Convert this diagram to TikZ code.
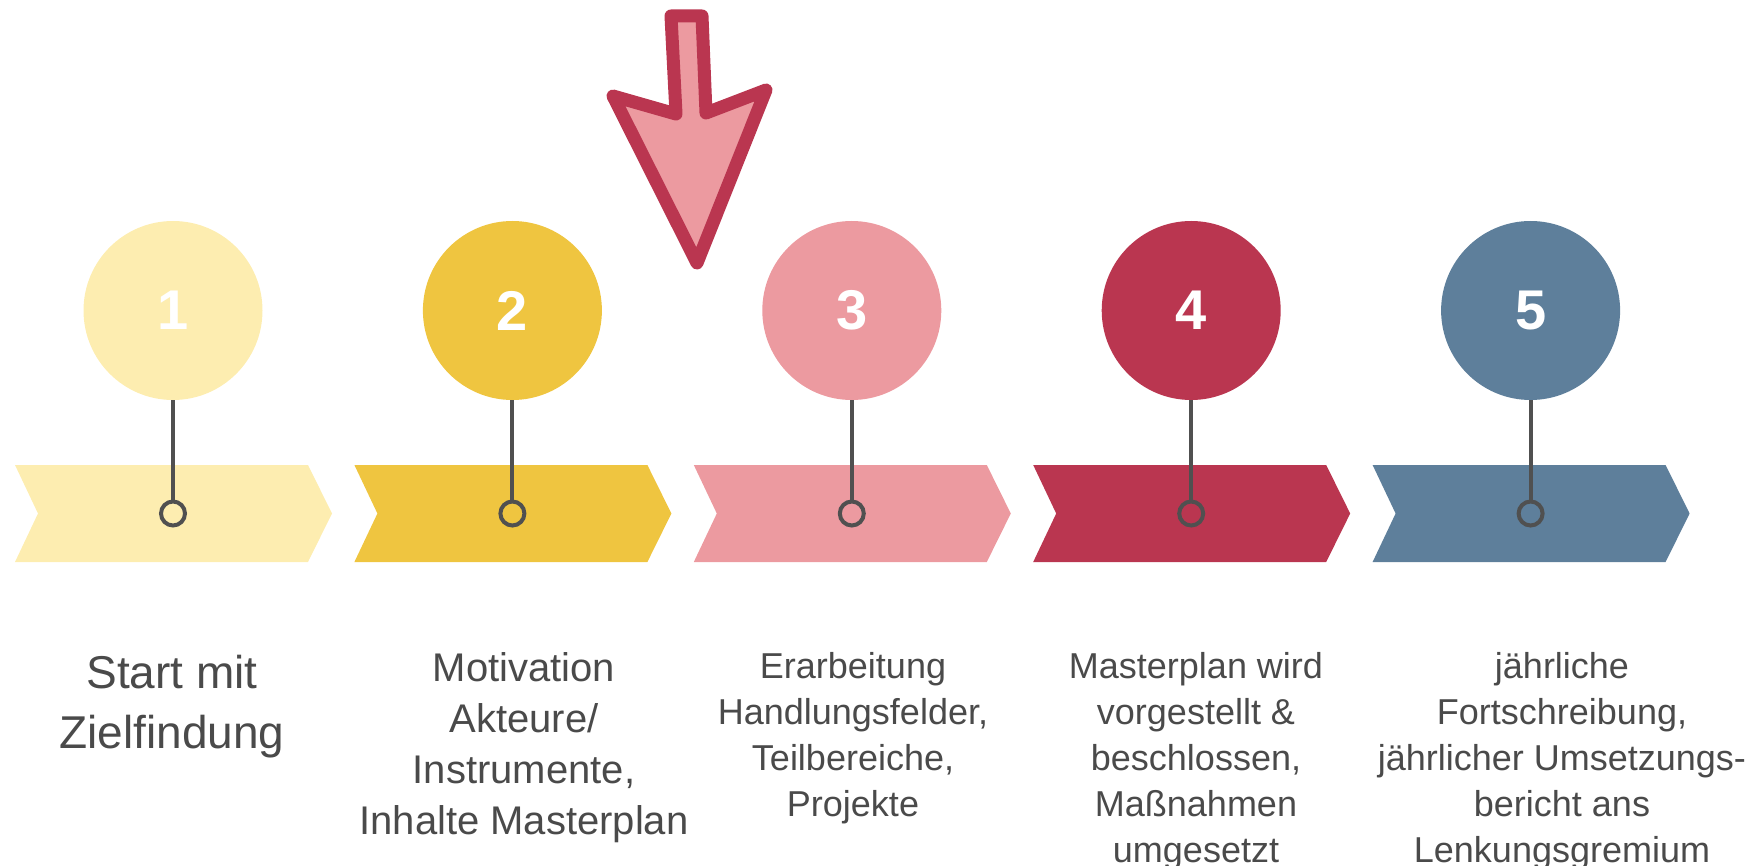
\documentclass[tikz,border=0pt]{standalone}
\usepackage{fontspec}
\setmainfont{Liberation Sans}
\definecolor{cA}{HTML}{FDEDB0}
\definecolor{cB}{HTML}{EFC540}
\definecolor{cC}{HTML}{EC9AA0}
\definecolor{cD}{HTML}{BA3650}
\definecolor{cE}{HTML}{5E7F9B}
\definecolor{stemgray}{HTML}{505050}
\definecolor{txtgray}{HTML}{4A4A4A}
\tikzset{
  bigcirc/.style={circle, minimum size=179pt, inner sep=0pt, text=white, font=\fontsize{56}{60}\selectfont\bfseries},
  pin/.style={circle, draw=stemgray, line width=4pt, minimum size=24pt, inner sep=0pt},
  stem/.style={draw=stemgray, line width=4pt},
  label/.style={text=txtgray, align=center, inner sep=0pt, anchor=north},
  bigarrow/.style={draw=cD, fill=cC, line width=13pt, line join=round}
}
\begin{document}
\begin{tikzpicture}[x=1pt,y=-1pt]
\useasboundingbox (0,0) rectangle (1762,866);
\foreach \i/\col in {1/cA,2/cB,3/cC,4/cD,5/cE}{
  \pgfmathsetmacro{\xo}{15+339.4*(\i-1)}
  \pgfmathsetmacro{\xc}{173+339.4*(\i-1)}
  \fill[\col] (\xo,465) -- (\xo+293,465) -- (\xo+317,513.5) -- (\xo+293,562) -- (\xo,562) -- (\xo+23,513.5) -- cycle;
  \node[bigcirc, fill=\col] (c\i) at (\xc,310.5) {\i};
  \node[pin] (p\i) at (\xc,513.5) {};
  \draw[stem] (c\i.south) -- (p\i.north);
}
\draw[bigarrow] (671,16) -- (702,16) -- (706,113) -- (766,90) -- (697,263) -- (613,96) -- (676,114) -- cycle;
\node[label, font=\fontsize{46}{60}\selectfont] (t1) at (172,655) {Start mit\\Zielfindung};
\node[label, font=\fontsize{40}{51}\selectfont] (t2) at (524,652) {Motivation\\Akteure/\\Instrumente,\\Inhalte Masterplan};
\node[label, font=\fontsize{36}{46}\selectfont] (t3) at (853,652) {Erarbeitung\\Handlungsfelder,\\Teilbereiche,\\Projekte};
\node[label, font=\fontsize{36}{46}\selectfont] (t4) at (1196,652) {Masterplan wird\\vorgestellt \&\\beschlossen,\\Maßnahmen\\umgesetzt};
\node[label, font=\fontsize{36}{46}\selectfont] (t5) at (1562,652) {jährliche\\Fortschreibung,\\jährlicher Umsetzungs-\\bericht ans\\Lenkungsgremium};
\end{tikzpicture}
\end{document}
